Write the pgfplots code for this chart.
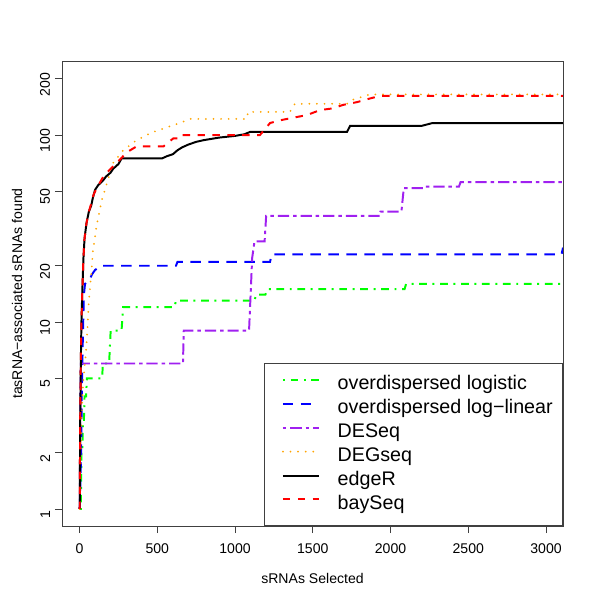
\documentclass[border=0pt]{standalone}
\usepackage{fontspec}
\setmainfont{Liberation Sans}
\usepackage{pgfplots}
\pgfplotsset{compat=1.18}

\definecolor{rgreen}{HTML}{00FF00}
\definecolor{rblue}{HTML}{0000FF}
\definecolor{rpurple}{HTML}{A020F0}
\definecolor{rorange}{HTML}{FFA500}
\definecolor{rred}{HTML}{FF0000}

\begin{document}
\begin{tikzpicture}
\begin{axis}[
    name=ax,
    scale only axis,
    width=12.525cm, height=11.625cm,
    xmin=-113, xmax=3109,
    ymode=log, ymin=0.811, ymax=249,
    xtick={0,500,...,3000},
    ytick={1,2,5,10,20,50,100,200},
    yticklabels={1,2,5,10,20,50,100,200},
    yminorticks=false,
    xtick pos=bottom, ytick pos=left,
    tick align=outside,
    major tick length=5pt,
    axis line style={black!75, line width=0.6pt},
    tick style={black!75, line width=0.6pt},
    /pgf/number format/assume math mode=true,
    /pgf/number format/1000 sep={},
    ticklabel style={font=\fontsize{10}{12}\selectfont},
    xticklabel style={yshift=-4pt},
    yticklabel style={rotate=90, anchor=south, xshift=-4pt},
    xlabel={sRNAs Selected},
    ylabel={tasRNA−associated sRNAs found},
    label style={font=\fontsize{10}{12}\selectfont},
    xlabel style={at={(rel axis cs:0.5,-0.1118)}, anchor=center},
    ylabel style={at={(rel axis cs:-0.0898,0.5)}, anchor=center},
    legend cell align=left,
    legend style={at={(rel axis cs:1,0)}, anchor=south east,
        draw=black!75, line width=0.6pt, fill=white,
        font=\fontsize{14}{17}\selectfont,
        nodes={inner sep=0pt, text height=10.5pt, text depth=3.5pt},
        inner xsep=7pt, inner ysep=8pt, row sep=3pt},
    legend image code/.code={
        \path[draw=none, fill=none] (-5.8pt,0pt) rectangle (39pt,7pt);
        \draw[#1] (0pt,3.6pt) -- (25.5pt,3.6pt);
    },
    every axis plot/.append style={line width=1.4pt},
]
% overdispersed logistic
\addplot[rgreen, dash pattern=on 1.4pt off 4pt on 5.5pt off 4pt] coordinates {
(1,1) (8,1) (12,2) (18,2) (22,3) (28,3) (32,4) (42,4) (47,5) (145,5) (150,6)
(190,6) (200,9) (270,9) (280,12) (610,12) (620,13) (1125,13) (1135,14) (1195,14)
(1210,15) (2090,15) (2100,16) (3109,16)};
\addlegendentry{overdispersed logistic}
% overdispersed log-linear
\addplot[rblue, dash pattern=on 7.5pt off 5.3pt] coordinates {
(1,1) (10,2) (14,4) (18,6) (22,9) (28,14) (35,16) (67,17) (80,18) (100,19)
(140,20) (620,20) (630,21) (1225,21) (1235,23) (3100,23) (3109,25)};
\addlegendentry{overdispersed log−linear}
% DESeq
\addplot[rpurple, dash pattern=on 2.5pt off 2.8pt on 8pt off 2.8pt] coordinates {
(1,1) (3,2) (5,4) (8,6) (665,6) (670,9) (1090,9) (1110,22) (1125,27) (1190,27)
(1200,37) (1930,37) (1935,39) (2070,39) (2085,52) (2220,52) (2225,53) (2440,53)
(2450,56) (3109,56)};
\addlegendentry{DESeq}
% DEGseq
\addplot[rorange, line cap=round, dash pattern=on 0pt off 5.4pt] coordinates {
(1,1) (8,2) (12,3) (18,4) (25,5) (35,6) (42,7) (50,9) (60,13) (75,18) (86,24)
(110,33) (131,40) (143,45) (175,55) (216,71) (281,83) (367,94) (472,104)
(497,105) (560,110) (646,116) (710,122) (1075,122) (1083,133) (1353,133)
(1385,147) (1720,147) (1740,153) (1868,165) (3109,165)};
\addlegendentry{DEGseq}
% edgeR
\addplot[black] coordinates {
(1,1) (4,3) (8,6) (12,10) (18,15) (25,22) (32,28) (45,34) (60,39) (75,42)
(85,46) (100,51) (120,54) (150,57) (170,60) (200,63) (216,66) (250,70) (270,75)
(530,75) (560,77) (600,79) (630,83) (660,86) (700,89) (750,92) (800,94) (900,97)
(1000,99) (1060,101) (1097,104) (1720,104) (1740,112) (2200,112) (2270,116)
(3109,116)};
\addlegendentry{edgeR}
% baySeq
\addplot[rred, dash pattern=on 5.3pt off 5.3pt] coordinates {
(1,1) (4,3) (8,6) (12,10) (18,15) (25,22) (32,28) (45,34) (60,39) (75,43)
(90,48) (110,52) (153,60) (200,66) (260,74) (305,81) (367,87) (540,87) (560,90)
(603,96) (640,96) (650,100) (1160,100) (1225,116) (1290,120) (1463,128)
(1546,136) (1630,139) (1694,145) (1784,150) (1868,157) (1933,162) (3109,162)};
\addlegendentry{baySeq}
\end{axis}
\pgfresetboundingbox
\path ([shift={(-1.55cm,-1.85cm)}]ax.south west) rectangle ([shift={(0.925cm,1.525cm)}]ax.north east);
\end{tikzpicture}
\end{document}
